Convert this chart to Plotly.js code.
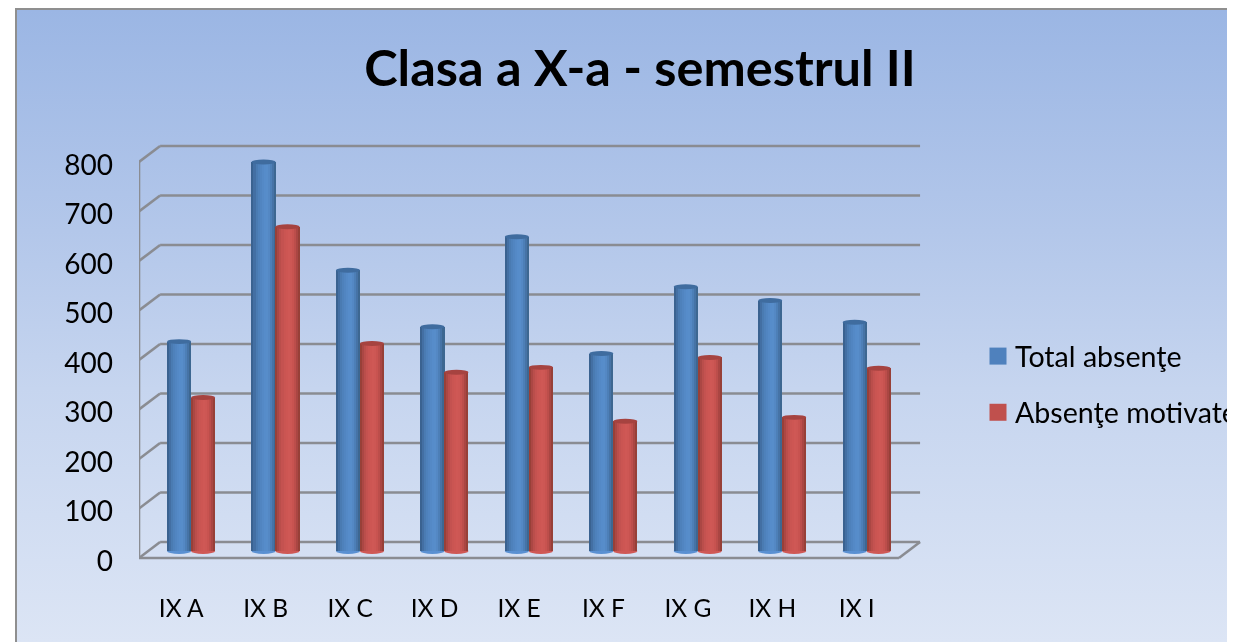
<!DOCTYPE html>
<html><head><meta charset="utf-8">
<script src="https://cdn.plot.ly/plotly-3.0.1.min.js"></script>
<style>
html,body{margin:0;padding:0;background:#fff;width:1242px;height:642px;overflow:hidden}
#panel{position:absolute;left:15px;top:8px;width:1212px;height:634px;overflow:hidden;
 border-top:2px solid #8f8f8f;border-left:2px solid #8f8f8f;box-sizing:border-box;
 background:linear-gradient(180deg,#9bb6e4 0%,#b3c7ea 35%,#c6d5ef 60%,#dce5f5 100%)}
#chart{position:absolute;left:-17px;top:-10px;width:1300px;height:642px;filter:blur(0.45px)}
</style></head><body>
<div id="panel"><div id="chart"></div></div>
<script>
const categories=['IX A','IX B','IX C','IX D','IX E','IX F','IX G','IX H','IX I'];
const totalAbsente=[423,786,567,453,635,399,534,506,462];
const absenteMotivate=[310,655,419,361,371,262,391,270,369];
const yTicks=[0,100,200,300,400,500,600,700,800];
const blueShades=['#3a6290','#436fa3','#4a7bb2','#4e81bb','#5185c1','#5489c6','#568cca','#578dca','#5488c4','#4d7fb7','#4673a6','#3d6791'];
const redShades=['#984038','#ab4744','#ba4e4b','#c45250','#ca5552','#cd5653','#cf5855','#cd5754','#c85350','#bc4e4b','#aa4643','#974038'];
const blueBase='#4f81bd', redBase='#c0504d';
const gridColor='#8a8c92';

const yRange=[-34.3,854.5], barShift=14.14, depthX=0.25, depthY=32.3;
const blueOff=-0.168, redOff=0.116, barW=0.286;

function strips(vals,colors,off,name){
  const w=barW/colors.length;
  return colors.map((c,k)=>({type:'bar',x:categories,y:vals,yaxis:'y2',width:w,offset:off+k*w,
    marker:{color:c,line:{width:0}},showlegend:false,hoverinfo:'skip',name:name+' shade'}));
}
function mainBar(vals,color,off,name,group){
  return {type:'bar',name:name,x:categories,y:vals,yaxis:'y2',width:barW,offset:off,legendgroup:group,
    marker:{color:color,line:{width:0}}};
}
const data=[
  mainBar(totalAbsente,blueBase,blueOff,'Total absenţe','a'),
  ...strips(totalAbsente,blueShades,blueOff,'Total absenţe'),
  mainBar(absenteMotivate,redBase,redOff,'Absenţe motivate','b'),
  ...strips(absenteMotivate,redShades,redOff,'Absenţe motivate')
];

const shapes=[];
const gl=(x0,y0,x1,y1)=>shapes.push({type:'line',xref:'x',yref:'y',x0,y0,x1,y1,layer:'below',line:{color:gridColor,width:2.6}});
yTicks.forEach(v=>{
  gl(-0.5+depthX,v+depthY,8.5+depthX,v+depthY);
  gl(-0.5,v,-0.5+depthX,v+depthY);
});
gl(-0.5,0,-0.5,yTicks[yTicks.length-1]);
gl(-0.5,0,8.5,0);
gl(8.5,0,8.5+depthX,depthY);
function caps(vals,off,baseColor,topColor){
  vals.forEach((v,i)=>{
    const x0=i+off,x1=i+off+barW;
    shapes.push({type:'circle',xref:'x',yref:'y',x0,x1,y0:barShift-6,y1:barShift+6,layer:'between',fillcolor:baseColor,line:{width:0}});
    shapes.push({type:'circle',xref:'x',yref:'y',x0,x1,y0:v+barShift-5,y1:v+barShift+5,layer:'above',fillcolor:topColor,line:{width:0}});
  });
}
caps(totalAbsente,blueOff,'#5a90d2','#3f6c9f');
caps(absenteMotivate,redOff,'#cf5855','#a64340');

const layout={
  width:1300,height:642,autosize:false,
  margin:{l:139,r:379,t:135,b:67},
  paper_bgcolor:'rgba(0,0,0,0)',plot_bgcolor:'rgba(0,0,0,0)',
  font:{family:'Lato, sans-serif',color:'#000'},
  title:{text:'<b>Clasa a X-a - semestrul II</b>',font:{family:'Lato, sans-serif',size:50.5,color:'#000'},
    xref:'container',x:640/1300,xanchor:'center',yref:'container',y:1-68/642,yanchor:'middle'},
  barmode:'overlay',
  xaxis:{type:'category',categoryorder:'array',categoryarray:categories,range:[-0.5,8.761],
    showgrid:false,zeroline:false,showline:false,ticks:'',tickfont:{size:24.5},ticklabelstandoff:16,fixedrange:true},
  yaxis:{range:yRange,tickvals:yTicks,showgrid:false,zeroline:false,showline:false,ticks:'',
    tickfont:{size:28},ticklabelstandoff:25,ticklabelshift:3,fixedrange:true},
  yaxis2:{overlaying:'y',range:[yRange[0]-barShift,yRange[1]-barShift],visible:false,fixedrange:true},
  legend:{xref:'paper',yref:'paper',x:(975-139)/782,xanchor:'left',y:(575-331)/440,yanchor:'top',
    font:{size:28.6,family:'Lato, sans-serif',color:'#000'},bgcolor:'rgba(0,0,0,0)',tracegroupgap:16,itemclick:false,itemdoubleclick:false},
  shapes:shapes,
  bargap:0
};
Plotly.newPlot('chart',data,layout,{displayModeBar:false,staticPlot:true}).then(gd=>{
  gd.querySelectorAll('.legend .legendpoints path').forEach(p=>p.setAttribute('d','M11.5,8.5H-5.5V-8.5H11.5Z'));
});
</script></body></html>
